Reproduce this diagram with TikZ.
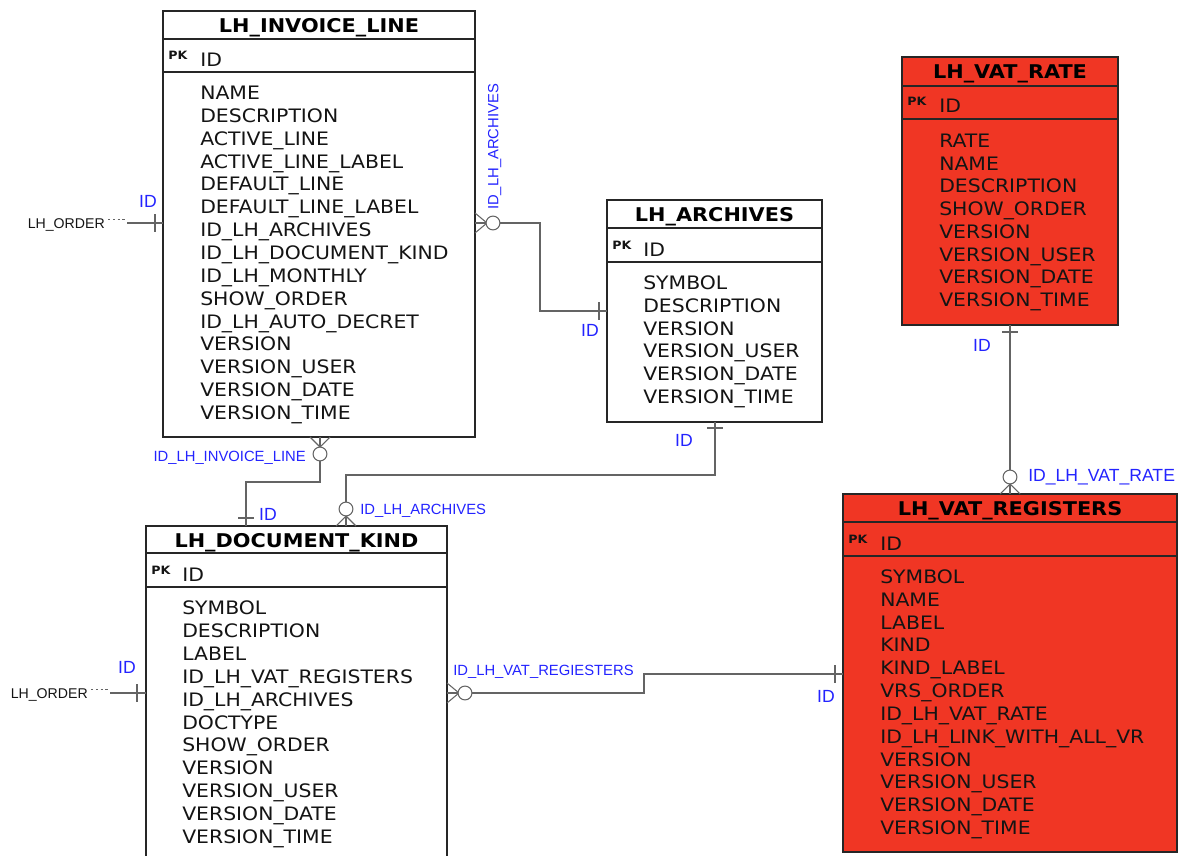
\documentclass[tikz,border=0pt]{standalone}
\usepackage{fontspec}
\usetikzlibrary{fit,calc}
\newfontfamily\tblfont{DejaVu Sans}[FakeStretch=1.1]
\newfontfamily\lblfont{Liberation Sans}
\definecolor{erred}{RGB}{240,54,36}
\definecolor{erblue}{RGB}{35,35,255}
\definecolor{conn}{RGB}{100,100,100}
\definecolor{txt}{RGB}{20,20,20}
\begin{document}
\begin{tikzpicture}[x=0.75pt,y=-0.75pt,
 ent/.style={draw=black!85, line width=1.2pt, inner sep=0pt, outer sep=0pt},
 sep/.style={draw=black!85, line width=1.1pt},
 hdr/.style={font=\tblfont\bfseries\fontsize{14.2}{15}\selectfont, anchor=base, inner sep=0pt, text=black},
 fld/.style={font=\tblfont\fontsize{13.9}{14}\selectfont, anchor=base west, inner sep=0pt, text=txt},
 pk/.style={font=\tblfont\bfseries\fontsize{8.6}{9}\selectfont, anchor=base west, inner sep=0pt, text=txt},
 lbl/.style={font=\lblfont\fontsize{11.1}{12}\selectfont, text=erblue, inner sep=0pt},
 lblbig/.style={font=\lblfont\fontsize{13.2}{14}\selectfont, text=erblue, inner sep=0pt, anchor=base},
 ext/.style={font=\lblfont\fontsize{10.6}{12}\selectfont, text=txt, inner sep=0pt, anchor=base east},
 con/.style={draw=conn, line width=0.8pt},
 dotcon/.style={draw=conn, line width=0.8pt, dash pattern=on 1.8pt off 1.8pt},
 ]
\useasboundingbox (0,0) rectangle (1182,856);
\clip (0,0) rectangle (1182,856);

% ---------- LH_INVOICE_LINE
\node[ent, fill=white, fit={(163,11)(475,437)}] (inv) {};
\draw[sep] (inv.west |- 0,39) -- (inv.east |- 0,39);
\draw[sep] (inv.west |- 0,72) -- (inv.east |- 0,72);
\node[hdr] (inv-h) at (319,32.5) {LH\_INVOICE\_LINE};
\node[pk] (inv-pk) at (168,59.5) {PK};
\node[fld] (inv-id) at (200,66.5) {ID};
\foreach \t [count=\i from 0] in {NAME,DESCRIPTION,ACTIVE\_LINE,ACTIVE\_LINE\_LABEL,DEFAULT\_LINE,DEFAULT\_LINE\_LABEL,ID\_LH\_ARCHIVES,ID\_LH\_DOCUMENT\_KIND,ID\_LH\_MONTHLY,SHOW\_ORDER,ID\_LH\_AUTO\_DECRET,VERSION,VERSION\_USER,VERSION\_DATE,VERSION\_TIME}
  \node[fld] (inv-f\i) at (200,{99.5+\i*22.86}) {\t};

% ---------- LH_ARCHIVES
\node[ent, fill=white, fit={(607,200)(822,422)}] (arc) {};
\draw[sep] (arc.west |- 0,228) -- (arc.east |- 0,228);
\draw[sep] (arc.west |- 0,262) -- (arc.east |- 0,262);
\node[hdr] (arc-h) at (714.5,221.5) {LH\_ARCHIVES};
\node[pk] (arc-pk) at (612,249) {PK};
\node[fld] (arc-id) at (643,256) {ID};
\foreach \t [count=\i from 0] in {SYMBOL,DESCRIPTION,VERSION,VERSION\_USER,VERSION\_DATE,VERSION\_TIME}
  \node[fld] (arc-f\i) at (643,{289.5+\i*22.8}) {\t};

% ---------- LH_VAT_RATE
\node[ent, fill=erred, fit={(902,57)(1118,325)}] (vat) {};
\draw[sep] (vat.west |- 0,86) -- (vat.east |- 0,86);
\draw[sep] (vat.west |- 0,119) -- (vat.east |- 0,119);
\node[hdr] (vat-h) at (1010,78.5) {LH\_VAT\_RATE};
\node[pk] (vat-pk) at (907,106) {PK};
\node[fld] (vat-id) at (939,113) {ID};
\foreach \t [count=\i from 0] in {RATE,NAME,DESCRIPTION,SHOW\_ORDER,VERSION,VERSION\_USER,VERSION\_DATE,VERSION\_TIME}
  \node[fld] (vat-f\i) at (939,{147.5+\i*22.71}) {\t};

% ---------- LH_DOCUMENT_KIND
\node[ent, fill=white, fit={(146,526)(447,880)}] (doc) {};
\draw[sep] (doc.west |- 0,553) -- (doc.east |- 0,553);
\draw[sep] (doc.west |- 0,587) -- (doc.east |- 0,587);
\node[hdr] (doc-h) at (296.5,547.5) {LH\_DOCUMENT\_KIND};
\node[pk] (doc-pk) at (151,574) {PK};
\node[fld] (doc-id) at (182,581.5) {ID};
\foreach \t [count=\i from 0] in {SYMBOL,DESCRIPTION,LABEL,ID\_LH\_VAT\_REGISTERS,ID\_LH\_ARCHIVES,DOCTYPE,SHOW\_ORDER,VERSION,VERSION\_USER,VERSION\_DATE,VERSION\_TIME}
  \node[fld] (doc-f\i) at (182,{614.5+\i*22.9}) {\t};

% ---------- LH_VAT_REGISTERS
\node[ent, fill=erred, fit={(843,494)(1177,852)}] (reg) {};
\draw[sep] (reg.west |- 0,522) -- (reg.east |- 0,522);
\draw[sep] (reg.west |- 0,556) -- (reg.east |- 0,556);
\node[hdr] (reg-h) at (1010,515.5) {LH\_VAT\_REGISTERS};
\node[pk] (reg-pk) at (848,543) {PK};
\node[fld] (reg-id) at (880,550) {ID};
\foreach \t [count=\i from 0] in {SYMBOL,NAME,LABEL,KIND,KIND\_LABEL,VRS\_ORDER,ID\_LH\_VAT\_RATE,ID\_LH\_LINK\_WITH\_ALL\_VR,VERSION,VERSION\_USER,VERSION\_DATE,VERSION\_TIME}
  \node[fld] (reg-f\i) at (880,{583.5+\i*22.82}) {\t};

% ---------- external LH_ORDER -> LH_INVOICE_LINE
\node[ext] (ord1) at (105,228) {LH\_ORDER};
\coordinate (inv-l) at (inv.west |- 0,223);
\draw[dotcon] ($(ord1.east)+(3,-5)$) -- ($(ord1.east)+(20,-5)$);
\draw[con] ($(inv-l)+(-36,0)$) -- (inv-l);
\draw[con] ($(inv-l)+(-8,-9)$) -- ($(inv-l)+(-8,9)$);
\node[lblbig] (l-ord1) at (148,207.3) {ID};

% ---------- LH_INVOICE_LINE -> LH_ARCHIVES
\coordinate (inv-r) at (inv.east |- 0,223);
\coordinate (arc-l) at (arc.west |- 0,311);
\draw[con] ($(inv-r)+(0,-10)$) -- ($(inv-r)+(12,0)$) -- ($(inv-r)+(0,10)$);
\draw[con] (inv-r) -- ($(inv-r)+(12,0)$);
\draw[con, fill=white] ($(inv-r)+(18,0)$) circle[radius=5.2pt];
\draw[con] ($(inv-r)+(25,0)$) -- ($(inv-r)+(65,0)$) |- (arc-l);
\draw[con] ($(arc-l)+(-8,-9)$) -- ($(arc-l)+(-8,9)$);
\node[lbl, rotate=90, anchor=base] (l-arc1) at (498.4,147) {ID\_LH\_ARCHIVES};
\node[lblbig] (l-arc1id) at (590,336.3) {ID};

% ---------- LH_INVOICE_LINE -> LH_DOCUMENT_KIND
\coordinate (inv-b) at (inv.south -| 320,0);
\coordinate (doc-t) at (doc.north -| 246,0);
\draw[con] ($(inv-b)+(-10,0)$) -- ($(inv-b)+(0,10)$) -- ($(inv-b)+(10,0)$);
\draw[con] (inv-b) -- ($(inv-b)+(0,10)$);
\draw[con, fill=white] ($(inv-b)+(0,17)$) circle[radius=5.2pt];
\draw[con] ($(inv-b)+(0,24)$) -- ($(inv-b)+(0,45)$) -| (doc-t);
\draw[con] ($(doc-t)+(-8,-8)$) -- ($(doc-t)+(8,-8)$);
\node[lbl, anchor=base east] (l-inv) at (306,461.4) {ID\_LH\_INVOICE\_LINE};
\node[lblbig] (l-invid) at (268,520.3) {ID};

% ---------- LH_DOCUMENT_KIND -> LH_ARCHIVES
\coordinate (doc-t2) at (doc.north -| 346,0);
\coordinate (arc-b) at (arc.south -| 715,0);
\draw[con] ($(doc-t2)+(-10,0)$) -- ($(doc-t2)+(0,-10)$) -- ($(doc-t2)+(10,0)$);
\draw[con] (doc-t2) -- ($(doc-t2)+(0,-10)$);
\draw[con, fill=white] ($(doc-t2)+(0,-17)$) circle[radius=5.2pt];
\draw[con] ($(doc-t2)+(0,-24)$) -- ($(doc-t2)+(0,-51)$) -| (arc-b);
\draw[con] ($(arc-b)+(-8,6)$) -- ($(arc-b)+(8,6)$);
\node[lbl, anchor=base west] (l-arc2) at (360,514.4) {ID\_LH\_ARCHIVES};
\node[lblbig] (l-arc2id) at (684,446.3) {ID};

% ---------- LH_DOCUMENT_KIND -> LH_VAT_REGISTERS
\coordinate (doc-r) at (doc.east |- 0,693);
\coordinate (reg-l) at (reg.west |- 0,674);
\draw[con] ($(doc-r)+(0,-10)$) -- ($(doc-r)+(12,0)$) -- ($(doc-r)+(0,10)$);
\draw[con] (doc-r) -- ($(doc-r)+(12,0)$);
\draw[con, fill=white] ($(doc-r)+(18,0)$) circle[radius=5.2pt];
\draw[con] ($(doc-r)+(25,0)$) -- ($(doc-r)+(197,0)$) |- (reg-l);
\draw[con] ($(reg-l)+(-8,-9)$) -- ($(reg-l)+(-8,9)$);
\node[lbl, anchor=base west] (l-reg) at (453,675.4) {ID\_LH\_VAT\_REGIESTERS};
\node[lblbig] (l-regid) at (826,702.3) {ID};

% ---------- LH_VAT_RATE -> LH_VAT_REGISTERS
\coordinate (vat-b) at (vat.south -| 1010,0);
\coordinate (reg-t) at (reg.north -| 1010,0);
\draw[con] ($(vat-b)+(-8,7)$) -- ($(vat-b)+(8,7)$);
\draw[con] (vat-b) -- ($(reg-t)+(0,-24)$);
\draw[con] ($(reg-t)+(-10,0)$) -- ($(reg-t)+(0,-10)$) -- ($(reg-t)+(10,0)$);
\draw[con] (reg-t) -- ($(reg-t)+(0,-10)$);
\draw[con, fill=white] ($(reg-t)+(0,-17)$) circle[radius=5.2pt];
\node[lblbig] (l-vatid) at (982,351.3) {ID};
\node[lblbig, anchor=base west] (l-vat) at (1028,481.3) {ID\_LH\_VAT\_RATE};

% ---------- external LH_ORDER -> LH_DOCUMENT_KIND
\node[ext] (ord2) at (88,698) {LH\_ORDER};
\coordinate (doc-l) at (doc.west |- 0,693);
\draw[dotcon] ($(ord2.east)+(3,-5)$) -- ($(ord2.east)+(20,-5)$);
\draw[con] ($(doc-l)+(-36,0)$) -- (doc-l);
\draw[con] ($(doc-l)+(-9,-9)$) -- ($(doc-l)+(-9,9)$);
\node[lblbig] (l-ord2) at (127,673.3) {ID};
\end{tikzpicture}
\end{document}
